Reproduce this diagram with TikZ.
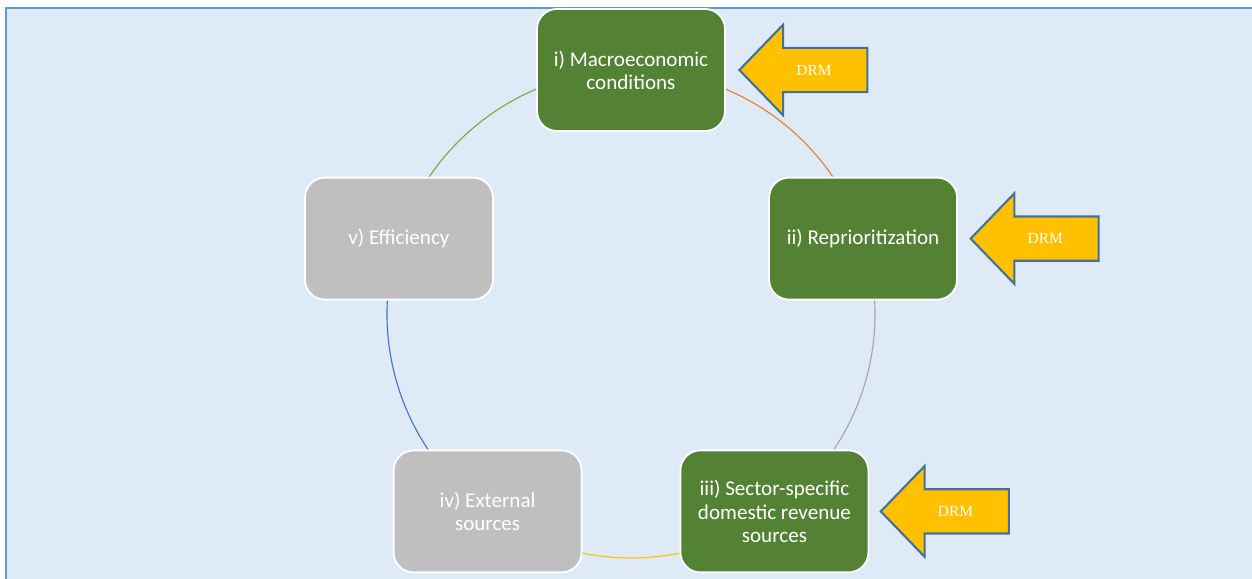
\documentclass[tikz,border=0pt]{standalone}
\usepackage{fontspec}
\setmainfont{Carlito}
\newfontfamily\drmfont{Liberation Serif}
\usepackage{tikz}
\usetikzlibrary{positioning, shapes.arrows, backgrounds}

\definecolor{panelblue}{HTML}{DEEBF7}
\definecolor{panelline}{HTML}{5B9BD5}
\definecolor{stagegreen}{HTML}{548235}
\definecolor{stagegray}{HTML}{BFBFBF}
\definecolor{drmgold}{HTML}{FFC000}
\definecolor{drmline}{HTML}{41719C}
\definecolor{arcorange}{HTML}{ED7D31}
\definecolor{arcgray}{HTML}{A5A5A5}
\definecolor{arcyellow}{HTML}{FFC000}
\definecolor{arcblue}{HTML}{4472C4}
\definecolor{arcgreen}{HTML}{70AD47}

\begin{document}
\begin{tikzpicture}[
    stage/.style={rectangle, rounded corners=0.5cm, draw=white, line width=1.3pt, text=white, minimum width=4.7cm, minimum height=3.05cm, align=center, font=\fontsize{15}{16.5}\selectfont},
    active/.style={stage, fill=stagegreen},
    idle/.style={stage, fill=stagegray},
    drm/.style={single arrow, shape border rotate=180, draw=drmline, line width=1.5pt, fill=drmgold, inner ysep=0.4cm, minimum height=3.2cm, minimum width=2.25cm, single arrow head extend=0.58cm, single arrow tip angle=92, text=white, font=\drmfont\fontsize{11}{12}\selectfont},
    cycle/.style={line width=0.8pt}
]

\useasboundingbox (0,0) rectangle (31.3,14.45);
\coordinate (hub) at (15.775,6.6);

% Cycle stages
\node[active] (mac) at ([shift={(90:6.1)}]hub) {i) Macroeconomic\\conditions};
\node[active] (rep) at ([shift={(18:6.1)}]hub) {ii) Reprioritization};
\node[active] (sec) at ([shift={(-54:6.1)}]hub) {iii) Sector-specific\\domestic revenue\\sources};
\node[idle] (ext) at ([shift={(-126:6.1)}]hub) {iv) External\\sources};
\node[idle] (eff) at ([shift={(162:6.1)}]hub) {v) Efficiency};

% DRM arrows
\node[drm, right=0.3cm of mac] (drm1) {DRM};
\node[drm, right=0.28cm of rep] (drm2) {DRM};
\node[drm, right=0.25cm of sec] (drm3) {DRM};

% Panel and cycle arcs
\begin{scope}[on background layer]
\draw[panelline, fill=panelblue, line width=1.5pt] (0.16,-1) rectangle (32,14.25);
\draw[cycle, arcorange] (mac.center) arc[start angle=90, end angle=18, radius=6.1cm];
\draw[cycle, arcgray] (rep.center) arc[start angle=18, end angle=-54, radius=6.1cm];
\draw[cycle, arcyellow] (sec.center) arc[start angle=-54, end angle=-126, radius=6.1cm];
\draw[cycle, arcblue] (ext.center) arc[start angle=-126, end angle=-198, radius=6.1cm];
\draw[cycle, arcgreen] (eff.center) arc[start angle=162, end angle=90, radius=6.1cm];
\end{scope}

\end{tikzpicture}
\end{document}
